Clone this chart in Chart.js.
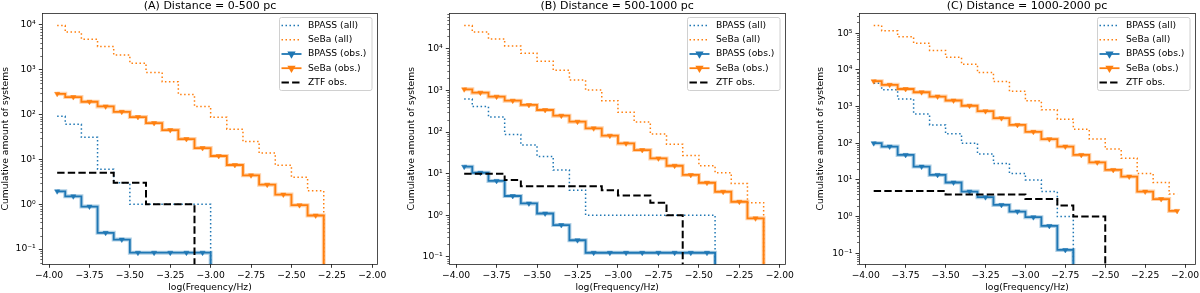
<!DOCTYPE html>
<html>
<head>
<meta charset="utf-8">
<script src="https://cdn.jsdelivr.net/npm/chart.js@4"></script>
<style>
  body { margin: 0; background: #fff; }
  .row { display: flex; width: 1200px; height: 293px; }
  .row canvas { display: block; }
</style>
</head>
<body>
<div class="row">
  <canvas id="chartA" width="400" height="293"></canvas>
  <canvas id="chartB" width="400" height="293"></canvas>
  <canvas id="chartC" width="400" height="293"></canvas>
</div>
<script>
// bin centres in log(Frequency/Hz)
const binCentres = [-3.95, -3.85, -3.75, -3.65, -3.55, -3.45, -3.35, -3.25, -3.15, -3.05,
                    -2.95, -2.85, -2.75, -2.65, -2.55, -2.45, -2.35, -2.25, -2.15, -2.05];
const xTicks = [-4, -3.75, -3.5, -3.25, -3, -2.75, -2.5, -2.25, -2];
const yTicks = [0.1, 1, 10, 100, 1000, 10000, 100000];

// (A) 0-500 pc   (a 0 means the cumulative count has dropped to nothing)
const bpassAllA = [91, 61, 31, 6, 3, 1, 1, 1, 1, 1, 0];
const sebaAllA  = [9700, 6900, 4800, 3300, 2140, 1400, 870, 540, 280, 152, 87, 47, 25, 13.8, 7.4, 4.0, 2.0, 0];
const bpassObsA = [1.94, 1.5, 0.885, 0.23, 0.163, 0.083, 0.083, 0.083, 0.083, 0.083, 0];
const sebaObsA  = [290, 245, 193, 152, 115, 88, 64.5, 45, 28.4, 17.9, 11.9, 7.5, 4.4, 2.73, 1.64, 0.95, 0.56, 0];
const ztfA      = [5, 5, 5, 5, 3, 3, 1, 1, 1, 0];

// (B) 500-1000 pc
const bpassAllB = [625, 410, 230, 88, 49, 26, 12.2, 4, 1, 1, 1, 1, 1, 1, 1, 1, 0];
const sebaAllB  = [36500, 25600, 17400, 11800, 7870, 5050, 3060, 1790, 1030, 570, 299, 175, 90, 51, 27.5, 15.5, 10.5, 5.8, 2.0, 0];
const bpassObsB = [14.7, 10.5, 6.7, 2.9, 1.92, 1.1, 0.58, 0.25, 0.125, 0.125, 0.125, 0.125, 0.125, 0.125, 0.125, 0.125, 0];
const sebaObsB  = [1070, 889, 711, 570, 449, 340, 248, 178, 123, 82, 53.5, 37, 23.3, 15.5, 9.3, 6.05, 3.67, 2.11, 0.84, 0];
const ztfB      = [10, 10, 10, 7, 5, 5, 5, 5, 5, 4, 3, 3, 2, 1, 0];

// (C) 1000-2000 pc
const bpassAllC = [4300, 2850, 1600, 630, 316, 180, 100, 51, 28, 15, 10, 4.8, 1, 0];
const sebaAllC  = [162000, 116000, 79400, 53400, 33700, 22100, 14300, 8460, 4800, 2600, 1430, 811, 452, 241, 131, 70, 39, 15, 8.5, 4.1];
const bpassObsC = [100, 81, 48, 23, 13.7, 8.5, 4.8, 3.37, 2.08, 1.37, 0.96, 0.556, 0.123, 0];
const sebaObsC  = [4900, 3900, 3000, 2450, 1870, 1460, 1050, 745, 480, 316, 204, 129, 81, 48, 30, 18.7, 12.3, 4.8, 3.0, 1.43];
const ztfC      = [5, 5, 5, 5, 5, 4, 4, 4, 4, 4, 3, 3, 2, 1, 1, 0];

const BLUE = '#1f77b4', ORANGE = '#ff7f0e';

Chart.defaults.font.family = "'DejaVu Sans', sans-serif";
Chart.defaults.font.size = 9.2;
Chart.defaults.color = '#000';

const SUP = {'0':'⁰','1':'¹','2':'²','3':'³','4':'⁴','5':'⁵','6':'⁶','7':'⁷','8':'⁸','9':'⁹','-':'⁻'};
function sup(n) { return String(n).split('').map(c => SUP[c]).join(''); }

// values -> points; zero goes far below the axis so the step drops off the plot
function pts(values) {
  return values.map((v, i) => ({ x: binCentres[i], y: v === 0 ? 1e-6 : v }));
}

const framePlugin = {
  id: 'frameAndMinor',
  afterDatasetsDraw(chart) {
    const { ctx, chartArea: a, scales: { y } } = chart;
    ctx.save();
    ctx.strokeStyle = '#000';
    ctx.lineWidth = 0.6;
    const lo = Math.floor(Math.log10(y.min)), hi = Math.ceil(Math.log10(y.max));
    for (let e = lo; e <= hi; e++) {
      for (let k = 2; k < 10; k++) {
        const v = k * Math.pow(10, e);
        if (v < y.min || v > y.max) continue;
        const py = Math.round(y.getPixelForValue(v)) + 0.5;
        ctx.beginPath();
        ctx.moveTo(a.left, py);
        ctx.lineTo(a.left - 2, py);
        ctx.stroke();
      }
    }
    ctx.lineWidth = 0.8;
    ctx.strokeStyle = '#222';
    ctx.strokeRect(Math.round(a.left) + 0.5, Math.round(a.top) + 0.5,
                   Math.round(a.right - a.left), Math.round(a.bottom - a.top));
    ctx.restore();
  },
  afterDraw(chart) {
    const { ctx, chartArea: a } = chart;
    const items = chart.data.datasets.filter(d => d.label);
    const w = 92.5, h = 73, x0 = Math.round(a.right - 6 - w), y0 = Math.round(a.top + 4);
    ctx.save();
    ctx.beginPath();
    if (ctx.roundRect) ctx.roundRect(x0 + 0.5, y0 + 0.5, w, h, 2);
    else ctx.rect(x0 + 0.5, y0 + 0.5, w, h);
    ctx.fillStyle = 'rgba(255,255,255,0.8)';
    ctx.fill();
    ctx.strokeStyle = '#d0d0d0';
    ctx.lineWidth = 1;
    ctx.stroke();
    items.forEach((d, i) => {
      const yc = y0 + 8.6 + i * 14.2;
      ctx.beginPath();
      ctx.setLineDash(d.borderDash || []);
      ctx.strokeStyle = d.borderColor;
      ctx.lineWidth = d.borderWidth;
      ctx.moveTo(x0 + 2.5, yc);
      ctx.lineTo(x0 + 22.5, yc);
      ctx.stroke();
      ctx.setLineDash([]);
      if (d.pointRadius > 0) {
        ctx.fillStyle = d.pointBackgroundColor;
        ctx.strokeStyle = d.pointBorderColor;
        Chart.helpers.drawPoint(ctx, { pointStyle: 'triangle', rotation: 180,
          radius: d.pointRadius, borderWidth: d.pointBorderWidth }, x0 + 12.5, yc);
      }
      ctx.fillStyle = '#000';
      ctx.font = "9.2px 'DejaVu Sans'";
      ctx.textBaseline = 'middle';
      ctx.textAlign = 'left';
      ctx.fillText(d.label, x0 + 29, yc);
    });
    ctx.restore();
  }
};

function makeChart(p) {
  const obsStyle = (c) => ({
    borderColor: c, borderWidth: 1.8, stepped: 'middle',
    pointStyle: 'triangle', rotation: 180, pointRadius: 3,
    pointBackgroundColor: c, pointBorderColor: c, pointBorderWidth: 0.5
  });
  const haloStyle = (c) => ({ borderColor: c, borderWidth: 4, stepped: 'middle', pointRadius: 0 });
  new Chart(document.getElementById(p.id), {
    type: 'line',
    data: {
      datasets: [
        { label: 'BPASS (all)', data: pts(p.bpassAll), borderColor: BLUE, borderWidth: 1.5,
          borderDash: [1.5, 2.5], stepped: 'middle', pointRadius: 0, order: 7 },
        { label: 'SeBa (all)', data: pts(p.sebaAll), borderColor: ORANGE, borderWidth: 1.5,
          borderDash: [1.5, 2.5], stepped: 'middle', pointRadius: 0, order: 6 },
        Object.assign({ label: 'BPASS (obs.)', data: pts(p.bpassObs), order: 4 }, obsStyle(BLUE)),
        Object.assign({ label: 'SeBa (obs.)', data: pts(p.sebaObs), order: 2 }, obsStyle(ORANGE)),
        { label: 'ZTF obs.', data: pts(p.ztf), borderColor: '#000', borderWidth: 2,
          borderDash: [7.4, 3.2], stepped: 'middle', pointRadius: 0, order: 1 },
        Object.assign({ data: pts(p.bpassObs), order: 5 }, haloStyle('rgba(31,119,180,0.35)')),
        Object.assign({ data: pts(p.sebaObs), order: 3 }, haloStyle('rgba(255,127,14,0.35)'))
      ]
    },
    options: {
      responsive: false,
      animation: false,
      events: [],
      layout: { padding: { left: p.padLeft, right: p.padRight, top: 0, bottom: 0 } },
      plugins: {
        legend: { display: false },
        tooltip: { enabled: false },
        title: { display: true, text: p.title, fullSize: false, color: '#000',
                 font: { size: 11, weight: 'normal' }, padding: { top: 0, bottom: 0 } }
      },
      scales: {
        x: {
          type: 'linear', min: p.xMin, max: p.xMax,
          afterBuildTicks: s => { s.ticks = xTicks.map(v => ({ value: v })); },
          afterFit: s => { s.height = 28.7; s.paddingLeft = 0; s.paddingRight = 0; },
          grid: { drawOnChartArea: false, tickLength: 3.5, color: '#000', lineWidth: 0.8 },
          border: { display: false },
          ticks: { autoSkip: false, maxRotation: 0, padding: 2,
                   callback: v => v.toFixed(2).replace('-', '−') },
          title: { display: true, text: 'log(Frequency/Hz)', padding: { top: 0, bottom: 0 } }
        },
        y: {
          type: 'logarithmic', min: p.yMin, max: p.yMax,
          afterBuildTicks: s => { s.ticks = yTicks.filter(v => v >= s.min && v <= s.max).map(v => ({ value: v })); },
          afterFit: s => { s.width = p.yWidth; },
          grid: { drawOnChartArea: false, tickLength: 3.5, color: '#000', lineWidth: 0.8 },
          border: { display: false },
          ticks: { autoSkip: false, padding: 3,
                   callback: v => '10' + sup(Math.round(Math.log10(v))) },
          title: { display: true, text: 'Cumulative amount of systems', padding: { top: 0, bottom: 0 } }
        }
      }
    },
    plugins: [framePlugin]
  });
}

makeChart({ id: 'chartA', title: '(A) Distance = 0-500 pc',
  bpassAll: bpassAllA, sebaAll: sebaAllA, bpassObs: bpassObsA, sebaObs: sebaObsA, ztf: ztfA,
  xMin: -4.042, xMax: -1.966, yMin: 0.0457, yMax: 18200,
  padLeft: 0, padRight: 22.3, yWidth: 42.3 });

makeChart({ id: 'chartB', title: '(B) Distance = 500-1000 pc',
  bpassAll: bpassAllB, sebaAll: sebaAllB, bpassObs: bpassObsB, sebaObs: sebaObsB, ztf: ztfB,
  xMin: -4.042, xMax: -1.968, yMin: 0.066, yMax: 72400,
  padLeft: 6.3, padRight: 15, yWidth: 43 });

makeChart({ id: 'chartC', title: '(C) Distance = 1000-2000 pc',
  bpassAll: bpassAllC, sebaAll: sebaAllC, bpassObs: bpassObsC, sebaObs: sebaObsC, ztf: ztfC,
  xMin: -4.042, xMax: -1.938, yMin: 0.05, yMax: 350000,
  padLeft: 15.3, padRight: 5, yWidth: 43.7 });
</script>
</body>
</html>
